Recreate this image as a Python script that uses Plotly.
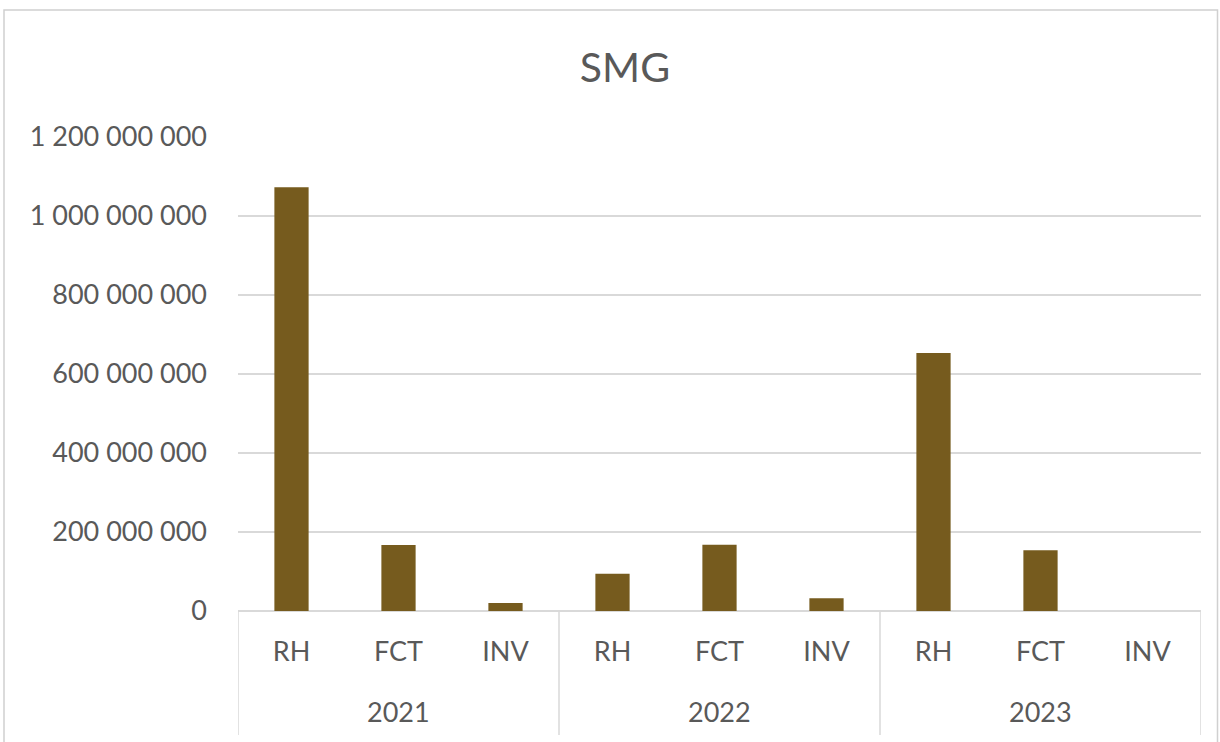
import plotly.graph_objects as go

years = ["2021", "2022", "2023"]
subcats = ["RH", "FCT", "INV"]
values_2021 = [1073000000, 167000000, 20000000]
values_2022 = [94000000, 168000000, 32000000]
values_2023 = [653000000, 154000000, 0]
y_ticks = [0, 200000000, 400000000, 600000000, 800000000, 1000000000, 1200000000]

values = values_2021 + values_2022 + values_2023
labels = [s for _ in years for s in subcats]
xpos = list(range(len(values)))

FONT = "Lato, Roboto, sans-serif"
GRAY = "#595959"
GRID = "#D9D9D9"

fig = go.Figure()
fig.add_trace(go.Bar(
    x=xpos, y=values,
    marker=dict(color="#765B1E", line=dict(width=0)),
    width=0.32,
    hoverinfo="skip",
))

L, R, T, B = 238, 19, 137, 131
W, H = 1220, 742
pw = W - L - R
ph = H - T - B

def px2paper_x(px):
    return (px - L) / pw

def px2paper_y(py):
    return (H - B - py) / ph

shapes = []
# outer chart border
shapes.append(dict(type="rect", xref="paper", yref="paper",
                   x0=px2paper_x(4), x1=px2paper_x(1217.5),
                   y0=px2paper_y(760), y1=px2paper_y(10),
                   line=dict(color="#D0D0D0", width=1.5), fillcolor="rgba(0,0,0,0)", layer="below"))
# group dividers
n = len(subcats)
for g in range(len(years) + 1):
    xd = g * n - 0.5
    shapes.append(dict(type="line", xref="x", yref="paper",
                       x0=xd, x1=xd, y0=0, y1=px2paper_y(735),
                       line=dict(color=GRID, width=1.5)))

annotations = []
for g, yr in enumerate(years):
    annotations.append(dict(x=g * n + (n - 1) / 2, y=px2paper_y(711), xref="x", yref="paper",
                            text=yr, showarrow=False, yanchor="middle",
                            font=dict(family=FONT, size=27, color=GRAY)))

fig.update_layout(
    width=W, height=H,
    margin=dict(l=L, r=R, t=T, b=B),
    paper_bgcolor="white", plot_bgcolor="white",
    separators=". ",
    showlegend=False,
    title=dict(text="SMG", x=625 / W, xref="container", xanchor="center", y=1 - 68 / H, yanchor="middle",
               font=dict(family=FONT, size=41, color=GRAY)),
    xaxis=dict(range=[-0.5, len(values) - 0.5], tickvals=xpos, ticktext=labels,
               showgrid=False, zeroline=False, showline=False, ticks="",
               ticklabelstandoff=22,
               tickfont=dict(family=FONT, size=27, color=GRAY), fixedrange=True),
    yaxis=dict(range=[0, 1200000000], tickvals=y_ticks, tickformat=",d",
               showgrid=True, gridcolor=GRID, gridwidth=1.5,
               zeroline=True, zerolinecolor=GRID, zerolinewidth=1.5,
               showline=False, ticks="", ticklabelstandoff=30,
               tickfont=dict(family=FONT, size=27, color=GRAY), fixedrange=True),
    shapes=shapes,
    annotations=annotations,
)

fig.write_html("out.html", config={"displayModeBar": False},
               post_script="document.body.style.margin='0px';")
